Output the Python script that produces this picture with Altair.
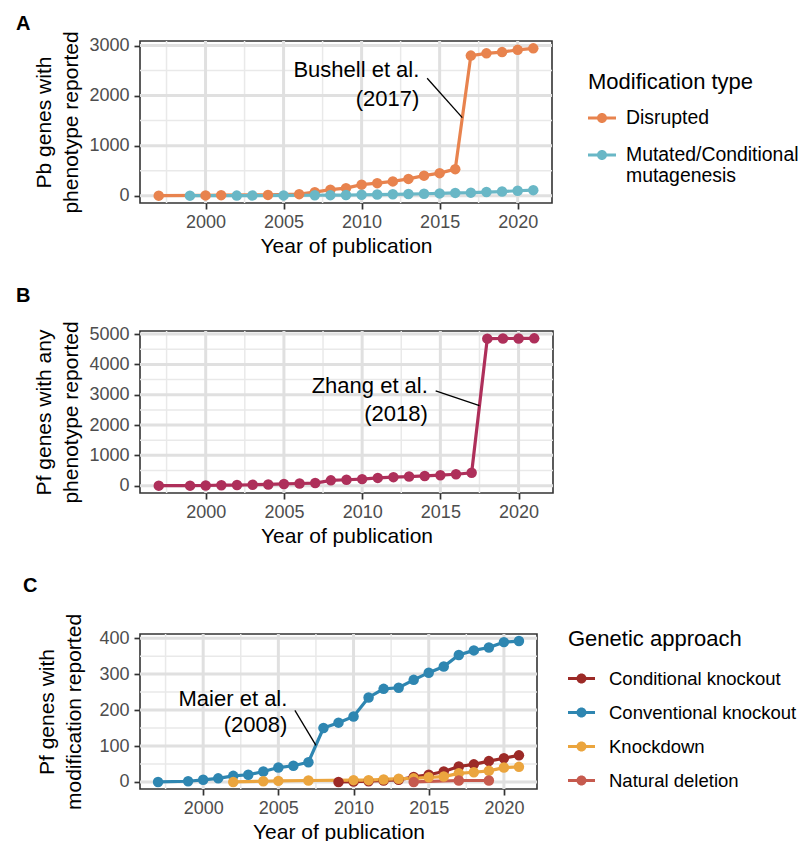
import altair as alt
import pandas as pd

FONT = "Liberation Sans"

# ---------------- Panel A data ----------------
a_dis_years = [1997, 2000, 2001, 2004, 2006, 2007, 2008, 2009, 2010, 2011, 2012, 2013,
               2014, 2015, 2016, 2017, 2018, 2019, 2020, 2021]
a_dis_vals = [0, 5, 10, 15, 30, 70, 120, 150, 220, 250, 285, 335,
              400, 450, 530, 2800, 2845, 2870, 2915, 2945]
a_mut_years = [1999, 2002, 2003, 2005, 2007, 2008, 2009, 2010, 2011, 2012, 2013, 2014,
               2015, 2016, 2017, 2018, 2019, 2020, 2021]
a_mut_vals = [0, 1, 2, 5, 8, 10, 12, 18, 22, 27, 32, 38,
              45, 55, 60, 72, 82, 98, 110]
a_types = ["Disrupted", "Mutated/Conditional mutagenesis"]
a_colors = ["#E8834E", "#69B7C6"]

# ---------------- Panel B data ----------------
b_years = [1997, 1999, 2000, 2001, 2002, 2003, 2004, 2005, 2006, 2007, 2008, 2009,
           2010, 2011, 2012, 2013, 2014, 2015, 2016, 2017, 2018, 2019, 2020, 2021]
b_vals = [0, 0, 5, 15, 20, 30, 40, 55, 70, 85, 175, 195,
          215, 255, 280, 300, 320, 345, 375, 425, 4850, 4855, 4858, 4860]
b_types = ["Any phenotype"]
b_colors = ["#AE2F5A"]

# ---------------- Panel C data ----------------
c_cond_years = [2009, 2010, 2011, 2012, 2013, 2014, 2015, 2016, 2017, 2018, 2019, 2020, 2021]
c_cond_vals = [0, 1, 2, 4, 6, 14, 20, 29, 43, 49, 58, 66, 74]
c_conv_years = [1997, 1999, 2000, 2001, 2002, 2003, 2004, 2005, 2006, 2007, 2008, 2009,
                2010, 2011, 2012, 2013, 2014, 2015, 2016, 2017, 2018, 2019, 2020, 2021]
c_conv_vals = [0, 2, 6, 10, 17, 20, 29, 40, 45, 55, 150, 165,
               182, 235, 259, 262, 284, 304, 321, 353, 366, 374, 389, 392]
c_kd_years = [2002, 2004, 2005, 2007, 2010, 2011, 2012, 2013, 2014, 2015, 2016, 2017,
              2018, 2019, 2020, 2021]
c_kd_vals = [0, 2, 3, 4, 5, 5, 7, 9, 10, 13, 15, 24, 27, 31, 40, 42]
c_nat_years = [2014, 2017, 2019]
c_nat_vals = [0, 4, 4]
c_types = ["Conditional knockout", "Conventional knockout", "Knockdown", "Natural deletion"]
c_colors = ["#9C2A27", "#2E86B1", "#EBA53E", "#C65A4E"]

# annotations (data coordinates)
a_note_x = [2013.7, 2013.7]
a_note_y = [2505, 1935]
a_note_txt = ["Bushell et al.", "(2017)"]
a_seg = [2014.2, 2347, 2016.45, 1560]

b_note_x = [2014.2, 2014.2]
b_note_y = [3290, 2370]
b_note_txt = ["Zhang et al.", "(2018)"]
b_seg = [2014.7, 3125, 2017.5, 2640]

c_note_x = [2005.6, 2005.6]
c_note_y = [230, 158]
c_note_txt = ["Maier et al.", "(2008)"]
c_seg = [2006.1, 199, 2007.5, 102]

x_major = [2000, 2005, 2010, 2015, 2020]
x_minor = [1997.5, 2002.5, 2007.5, 2012.5, 2017.5]
a_y_major = [0, 1000, 2000, 3000]
a_y_minor = [500, 1500, 2500]
b_y_major = [0, 1000, 2000, 3000, 4000, 5000]
b_y_minor = [500, 1500, 2500, 3500, 4500]
c_y_major = [0, 100, 200, 300, 400]
c_y_minor = [50, 150, 250, 350]


def legend_path(unit_px, line_px=3.0, dot_r=5.0):
    h = line_px / 2 / unit_px
    r = dot_r / unit_px
    return (f"M-1,{-h:.3f}L1,{-h:.3f}L1,{h:.3f}L-1,{h:.3f}Z "
            f"M{-r:.3f},0A{r:.3f},{r:.3f} 0 1,1 {r:.3f},0A{r:.3f},{r:.3f} 0 1,1 {-r:.3f},0Z")


def expanded(vals):
    lo, hi = min(vals), max(vals)
    d = hi - lo
    return [lo - 0.05 * d, hi + 0.05 * d]


def panel(series, types, colors, ylab, yvals_major, yvals_minor, letter, dx, offset,
          ytitle_pad, notes, seg, width, height, legend, field_title):
    rows = []
    for t, (yrs, vals) in zip(types, series):
        for yr, v in zip(yrs, vals):
            rows.append({"year": yr, "n": v, "type": t})
    df = pd.DataFrame(rows)
    all_years = [r["year"] for r in rows]
    all_vals = [r["n"] for r in rows]
    xs = alt.Scale(domain=expanded(all_years), nice=False, zero=False)
    ys = alt.Scale(domain=expanded(all_vals), nice=False, zero=False)
    xaxis = alt.Axis(values=x_major, format="d", title="Year of publication", grid=False, domain=False,
                     tickSize=6, tickWidth=1.7, tickColor="#333333", labelFontSize=18,
                     labelColor="#4D4D4D", labelFont=FONT, labelPadding=4, titleFont=FONT,
                     titleFontSize=21, titleFontWeight="normal", titleColor="black", titlePadding=4)
    yaxis = alt.Axis(values=yvals_major, format="d", title=ylab, grid=False, domain=False,
                     tickSize=6, tickWidth=1.7, tickColor="#333333", labelFontSize=18,
                     labelColor="#4D4D4D", labelFont=FONT, labelPadding=5, titleFont=FONT,
                     titleFontSize=21, titleFontWeight="normal", titleColor="black",
                     titlePadding=ytitle_pad, titleLineHeight=27)
    X = alt.X("year:Q", scale=xs, axis=xaxis)
    Y = alt.Y("n:Q", scale=ys, axis=yaxis)
    cscale = alt.Scale(domain=types, range=colors)

    vmin = alt.Chart(pd.DataFrame({"year": x_minor})).mark_rule(color="#E9E9E9", strokeWidth=1.5).encode(x=X)
    vmaj = alt.Chart(pd.DataFrame({"year": x_major})).mark_rule(color="#E0E0E0", strokeWidth=3).encode(x=X)
    hmin = alt.Chart(pd.DataFrame({"n": yvals_minor})).mark_rule(color="#E9E9E9", strokeWidth=1.5).encode(y=Y)
    hmaj = alt.Chart(pd.DataFrame({"n": yvals_major})).mark_rule(color="#E0E0E0", strokeWidth=3).encode(y=Y)

    # one line layer per series, coloured directly (no extra legend to merge)
    line_layers = []
    for t, c in zip(types, colors):
        line_layers.append(
            alt.Chart(df[df["type"] == t]).mark_line(strokeWidth=3.2, color=c).encode(x=X, y=Y))

    if legend is None:
        col = alt.Color("type:N", scale=cscale, legend=None)
    else:
        col = alt.Color("type:N", scale=cscale, legend=legend, title=field_title)
    pts = alt.Chart(df).mark_circle(size=110, opacity=1).encode(x=X, y=Y, color=col)

    nx, ny, nt = notes
    ndf = pd.DataFrame({"year": nx, "n": ny, "label": nt})
    text = alt.Chart(ndf).mark_text(align="right", baseline="middle", fontSize=22, font=FONT,
                                    color="black").encode(x=X, y=Y, text="label:N")
    sdf = pd.DataFrame({"year": [seg[0]], "n": [seg[1]], "year2": [seg[2]], "n2": [seg[3]]})
    segm = alt.Chart(sdf).mark_rule(color="black", strokeWidth=1.3).encode(
        x=X, y=Y, x2="year2:Q", y2="n2:Q")

    ch = alt.layer(vmin, hmin, vmaj, hmaj, *line_layers, pts, segm, text).properties(
        width=width, height=height,
        title=alt.TitleParams(letter, anchor="start", frame="group", dx=dx, offset=offset,
                              fontSize=20, fontWeight="bold", font=FONT, color="black"))
    return ch


leg_a = alt.Legend(orient="none", legendX=448, legendY=31, titleFontSize=22, titleFont=FONT,
                   titleFontWeight="normal", titleColor="black", labelFontSize=19.4, labelFont=FONT,
                   labelColor="black", symbolType=legend_path(14), symbolSize=784,
                   symbolStrokeWidth=0, symbolOpacity=1, labelOffset=10, labelLimit=400,
                   titleLimit=400, rowPadding=13, titlePadding=10, labelBaseline="middle",
                   labelExpr="datum.label == 'Mutated/Conditional mutagenesis' ? ['Mutated/Conditional', 'mutagenesis'] : datum.label")
leg_c = alt.Legend(orient="none", legendX=428, legendY=-5, titleFontSize=22, titleFont=FONT,
                   titleFontWeight="normal", titleColor="black", labelFontSize=18.5, labelFont=FONT,
                   labelColor="black", symbolType=legend_path(13.5), symbolSize=729,
                   symbolStrokeWidth=0, symbolOpacity=1, labelOffset=14, labelLimit=400,
                   titleLimit=400, rowPadding=11, titlePadding=14)

pa = panel([(a_dis_years, a_dis_vals), (a_mut_years, a_mut_vals)], a_types, a_colors,
           ["Pb genes with", "phenotype reported"], a_y_major, a_y_minor, "A", -124, -3, 7,
           (a_note_x, a_note_y, a_note_txt), a_seg, 412, 162, leg_a, "Modification type")
pb = panel([(b_years, b_vals)], b_types, b_colors,
           ["Pf genes with any", "phenotype reported"], b_y_major, b_y_minor, "B", -124, 15, 7,
           (b_note_x, b_note_y, b_note_txt), b_seg, 413, 162, None, "")
pc = panel([(c_cond_years, c_cond_vals), (c_conv_years, c_conv_vals), (c_kd_years, c_kd_vals),
            (c_nat_years, c_nat_vals)], c_types, c_colors,
           ["Pf genes with", "modification reported"], c_y_major, c_y_minor, "C", -117, 17, 14,
           (c_note_x, c_note_y, c_note_txt), c_seg, 397, 155, leg_c, "Genetic approach")

chart = alt.vconcat(pa, pb, pc, spacing=28).resolve_scale(
    color="independent", x="independent", y="independent"
).properties(
    padding={"left": 7, "top": 5, "right": 0, "bottom": 0}, background="white"
).configure_view(
    stroke="#333333", strokeWidth=1.6, strokeOpacity=1, fill="white"
)

chart.save("out.html", embed_options={"renderer": "svg", "actions": False})
